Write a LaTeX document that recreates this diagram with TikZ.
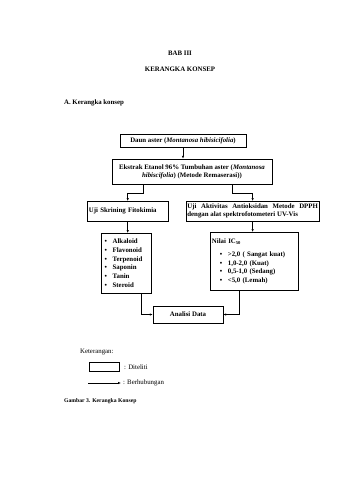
\documentclass[tikz,border=0pt]{standalone}
\usepackage{fontspec}
\setmainfont{Liberation Serif}
\usetikzlibrary{arrows.meta}
\newcommand{\itm}[1]{\makebox[14pt][l]{\textbullet}#1}
\newcommand{\hurufbesar}{\fontsize{12}{14.5}\selectfont}

\begin{document}
\begin{tikzpicture}[x=1.755pt, y=-1.755pt,
    every node/.style={font=\hurufbesar},
    kotak/.style={draw, line width=0.9pt, inner sep=3pt, font=\hurufbesar\bfseries},
    daftar/.style={kotak, anchor=north west, align=left, font=\bfseries\fontsize{12}{15.3}\selectfont},
    panah/.style={line width=0.9pt, -{Latex[length=5pt,width=4pt]}}]
  \useasboundingbox (0,0) rectangle (339,480);
  % judul bab
  \node[font=\hurufbesar\bfseries] (bab) at (180,53) {BAB III};
  \node[font=\hurufbesar\bfseries] (judul) at (180,69) {KERANGKA KONSEP};
  \node[font=\hurufbesar\bfseries, anchor=west, inner sep=0pt] (subjudul) at (64,103) {A. Kerangka konsep};

  % kotak-kotak
  \node[kotak, minimum width=221pt, minimum height=23pt] (daun) at (183,140.5) {Daun aster (\textit{Montanosa hibisicifolia})};
  \node[kotak, minimum width=281pt, minimum height=44pt, align=center] (ekstrak) at (192,171.5) {Ekstrak Etanol 96\% Tumbuhan aster (\textit{Montanosa}\\ \textit{hibiscifolia}) (Metode Remaserasi))};
  \node[kotak, anchor=north west, text width=136pt, minimum height=35pt, align=left] (skrining) at (87,201) {Uji Skrining Fitokimia};
  \node[kotak, anchor=north west, text width=229pt, minimum height=35pt, inner xsep=2pt, align=justify] (uji) at (186,201) {Uji Aktivitas Antioksidan Metode DPPH\linebreak dengan alat spektrofotometeri UV-Vis};
  \node[daftar, text width=82pt, minimum height=105pt] (senyawa) at (101,233) {\hspace*{3pt}\itm{Alkaloid}\\ \hspace*{3pt}\itm{Flavonoid}\\ \hspace*{3pt}\itm{Terpenoid}\\ \hspace*{3pt}\itm{Saponin}\\ \hspace*{3pt}\itm{Tanin}\\ \hspace*{3pt}\itm{Steroid}};
  \node[daftar, text width=148pt, minimum height=102pt] (nilai) at (210,232) {Nilai IC\textsubscript{50}\\[7.5pt] \hspace*{14pt}\itm{>2,0 ( Sangat kuat)}\\ \hspace*{14pt}\itm{1,0-2,0 (Kuat)}\\ \hspace*{14pt}\itm{0,5-1,0 (Sedang)}\\ \hspace*{14pt}\itm{<5,0 (Lemah)}};
  \node[kotak, minimum width=123pt, minimum height=30pt] (analisis) at (188,314.5) {Analisi Data};

  % penghubung
  \draw[panah] (daun.south) -- (daun.south |- ekstrak.north);
  \draw[panah] ([xshift=56pt]ekstrak.south west) -- ++(0,9) -| (skrining.north);
  \draw[panah] ([xshift=-70pt]ekstrak.south east) -- ++(0,9) -| (uji.north);
  \draw[panah] (skrining.south) -- (skrining.south |- senyawa.north);
  \draw[panah] (uji.south) -- (uji.south |- nilai.north);
  \draw[panah] ([xshift=-19pt]senyawa.south east) |- (analisis.west);
  \draw[panah] ([xshift=-26pt]nilai.south) |- (analisis.east);

  % keterangan
  \node[anchor=west, inner sep=0pt] (ket) at (80,352) {Keterangan:};
  \node[draw, line width=0.9pt, anchor=west, inner sep=0pt, minimum width=53pt, minimum height=15pt] (contoh) at (89,367) {};
  \node[anchor=west, inner sep=0pt] (diteliti) at (124,367) {: Diteliti};
  \coordinate (awal) at (88,383);
  \node[anchor=west] (berhub) at (121,383) {: Berhubungan};
  \draw[panah] (awal) -- (berhub.west);
  \node[anchor=west, inner sep=0pt, font=\bfseries\fontsize{10}{12}\selectfont] (gambar) at (64,401) {Gambar 3. Kerangka Konsep};
\end{tikzpicture}
\end{document}
